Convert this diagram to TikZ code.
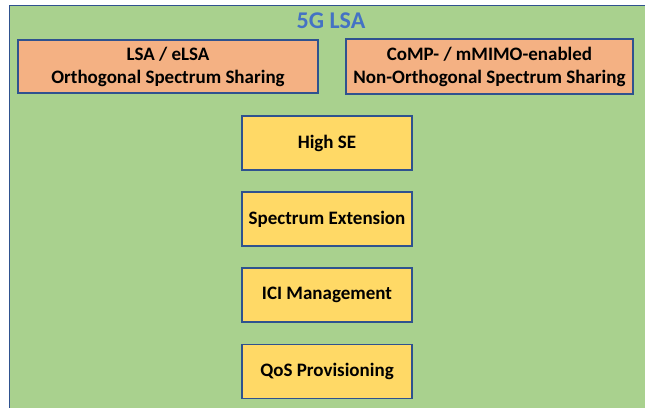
\documentclass[tikz,border=0pt]{standalone}
\usepackage{fontspec}
\setmainfont{Carlito}
\usepackage{xcolor}
\definecolor{lsagreen}{HTML}{A9D18E}
\definecolor{lsaorange}{HTML}{F4B183}
\definecolor{lsayellow}{HTML}{FFD966}
\definecolor{lsaline}{HTML}{2F528F}
\definecolor{lsatitle}{HTML}{4472C4}
\tikzset{
	lsaframe/.style={rectangle,draw=lsaline,fill=lsagreen,line width=1.5pt,inner sep=0pt},
	sharebox/.style={rectangle,draw=lsaline,fill=lsaorange,line width=1.2pt,align=center,font=\bfseries\fontsize{19}{23}\selectfont,inner sep=0pt},
	goalbox/.style={rectangle,draw=lsaline,fill=lsayellow,line width=1.2pt,minimum width=170pt,minimum height=54pt,font=\bfseries\fontsize{19}{23}\selectfont,inner sep=0pt}
}
\begin{document}
\begin{tikzpicture}[x=1pt,y=-1pt]
				\useasboundingbox (0,0) rectangle (645,407);
				\fill[white] (0,0) rectangle (645,407);
				\node[lsaframe,minimum width=680pt,minimum height=440pt,anchor=north west] (lsa) at (8.5,4.5) {};
				\node[text=lsatitle,font=\bfseries\fontsize{24}{26}\selectfont] (title) at (331,21) {5G LSA};
				\node[sharebox,minimum width=300pt,minimum height=53pt] (ortho) at (168,66.5) {LSA / eLSA\\Orthogonal Spectrum Sharing};
				\node[sharebox,minimum width=287pt,minimum height=55pt] (nonortho) at (489.5,66.5) {CoMP- / mMIMO-enabled\\Non-Orthogonal Spectrum Sharing};
				\node[goalbox] (se) at (327,143) {High SE};
				\node[goalbox] (ext) at (327,219) {Spectrum Extension};
				\node[goalbox] (ici) at (327,295) {ICI Management};
				\node[goalbox] (qos) at (327,371.5) {QoS Provisioning};
			\end{tikzpicture}
\end{document}
